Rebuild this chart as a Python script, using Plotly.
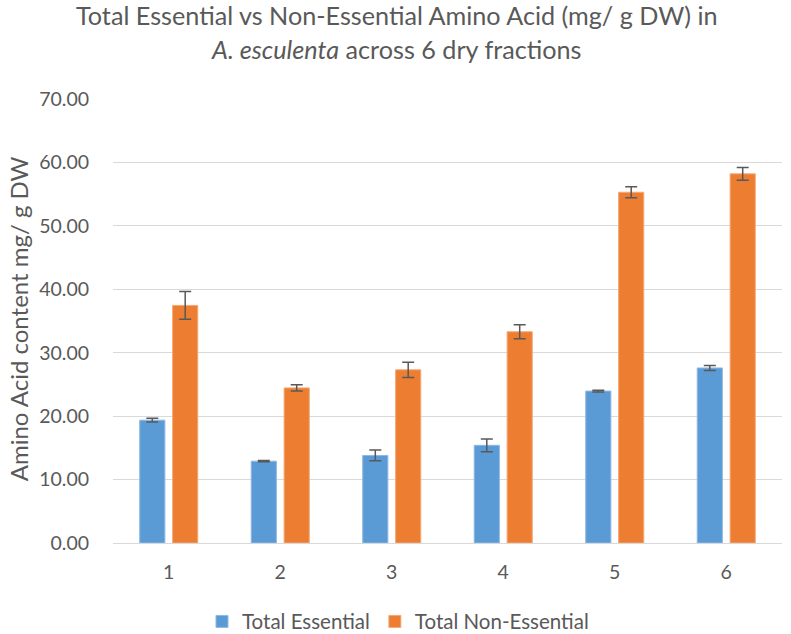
import plotly.graph_objects as go

categories = ["1", "2", "3", "4", "5", "6"]
essential = [19.37, 12.9, 13.8, 15.4, 23.95, 27.6]
essential_err = [0.3, 0.1, 0.85, 1.0, 0.15, 0.4]
non_essential = [37.46, 24.45, 27.3, 33.3, 55.3, 58.2]
non_essential_err = [2.2, 0.5, 1.2, 1.1, 0.85, 1.0]
y_ticks = [0, 10, 20, 30, 40, 50, 60, 70]
y_tick_labels = ["0.00", "10.00", "20.00", "30.00", "40.00", "50.00", "60.00", "70.00"]

TXT = "#595959"
FONT = "Lato, 'Open Sans', sans-serif"

fig = go.Figure()
fig.add_trace(go.Bar(
    x=categories, y=essential, name="Total Essential",
    marker=dict(color="#5B9BD5", line=dict(color="#8DB9E4", width=1)),
    error_y=dict(type="data", array=essential_err, color=TXT, thickness=1.5, width=6),
))
fig.add_trace(go.Bar(
    x=categories, y=non_essential, name="Total Non-Essential",
    marker=dict(color="#ED7D31", line=dict(color="#F3A878", width=1)),
    error_y=dict(type="data", array=non_essential_err, color=TXT, thickness=1.5, width=6),
))

fig.update_layout(
    width=791, height=634, autosize=False,
    paper_bgcolor="white", plot_bgcolor="white",
    margin=dict(l=113, r=9, t=99, b=90.5, autoexpand=False),
    barmode="group", bargap=0.41, bargroupgap=0.235,
    font=dict(family=FONT, color=TXT, size=19.5),
    legend=dict(
        orientation="h", x=0.426, xanchor="center",
        y=-0.177, yanchor="middle",
        font=dict(family=FONT, size=20.5, color=TXT),
        traceorder="normal",
    ),
    xaxis=dict(
        showgrid=False, showline=True, linecolor="#D9D9D9", linewidth=1,
        ticks="outside", ticklen=12, tickcolor="rgba(0,0,0,0)",
        tickfont=dict(size=19.5, color=TXT),
    ),
    yaxis=dict(
        range=[0, 70], tickvals=y_ticks, ticktext=y_tick_labels,
        showgrid=True, gridcolor="#D9D9D9", gridwidth=1, zeroline=False,
        showline=False, ticks="outside", ticklen=19, tickcolor="rgba(0,0,0,0)",
        tickfont=dict(size=19.5, color=TXT),
    ),
    annotations=[
        dict(text="Total Essential vs Non-Essential Amino Acid (mg/ g DW) in",
             xref="paper", yref="paper", x=0.4245, y=1.189, xanchor="center", yanchor="middle",
             showarrow=False, font=dict(family=FONT, size=25.2, color=TXT)),
        dict(text="<i>A. esculenta</i> across 6 dry fractions",
             xref="paper", yref="paper", x=0.4245, y=1.112, xanchor="center", yanchor="middle",
             showarrow=False, font=dict(family=FONT, size=25.2, color=TXT)),
        dict(text="Amino Acid content mg/ g DW", textangle=-90,
             xref="paper", yref="paper", x=-0.1413, y=0.505, xanchor="center", yanchor="middle",
             showarrow=False, font=dict(family=FONT, size=24, color=TXT)),
    ],
)

fig.write_html("out.html", config={"displayModeBar": False},
               post_script="document.body.style.margin='0';")
